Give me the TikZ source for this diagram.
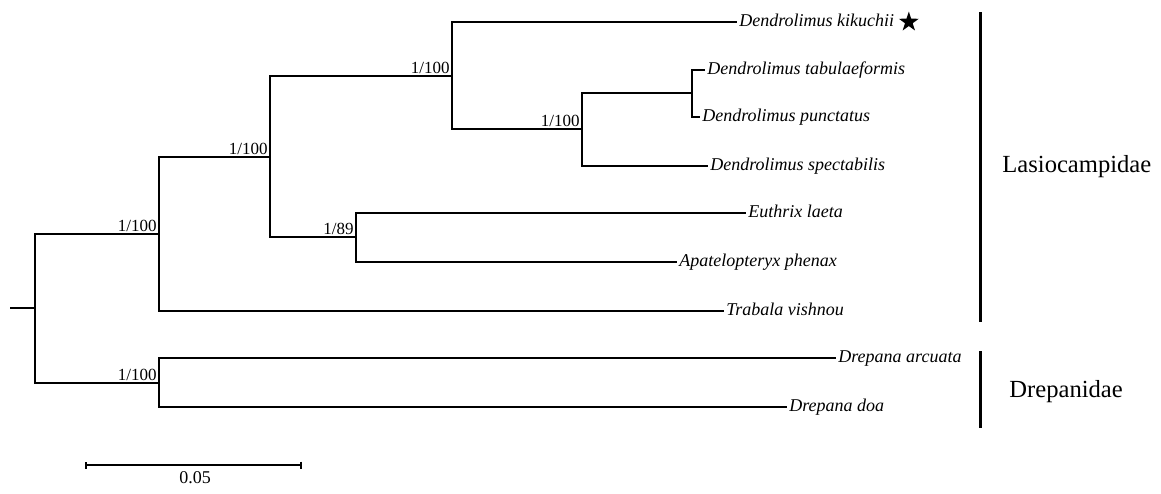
\documentclass[tikz,border=0pt]{standalone}
\usepackage{fontspec}
\setmainfont{Liberation Serif}
\usetikzlibrary{positioning,shapes.geometric,arrows.meta}
\tikzstyle{branch}=[line width=0.85pt]
\tikzstyle{taxon}=[anchor=west,inner sep=1pt,text height=0.7em,text depth=0.25em,font=\fontsize{9}{10}\selectfont\itshape]
\tikzstyle{support}=[anchor=south east,inner sep=1pt,font=\fontsize{8.5}{10}\selectfont]
\tikzstyle{family}=[anchor=west,inner sep=0pt,font=\fontsize{12.3}{14}\selectfont]
\tikzstyle{cladebar}=[line width=1.5pt]
\tikzstyle{starmark}=[star,star points=5,star point ratio=2.6,fill=black,inner sep=0pt,minimum size=10.5pt]

\begin{document}
\begin{tikzpicture}[x=0.5pt,y=-0.5pt]
        \useasboundingbox (0,0) rectangle (1161,493);
        % internal nodes
        \coordinate (stem) at (10,308);
        \coordinate (r) at (35,308);
        \coordinate (n1) at (159,234);
        \coordinate (n2) at (270,157);
        \coordinate (n3) at (452,76);
        \coordinate (n4) at (582,129);
        \coordinate (n5) at (692,93);
        \coordinate (n6) at (356,237);
        \coordinate (n7) at (159,383);
        % leaves
        \node[taxon] (kik) at (737,22) {Dendrolimus kikuchii};
        \node[starmark,right=3pt of kik] (star) {};
        \node[taxon] (tab) at (705,70) {Dendrolimus tabulaeformis};
        \node[taxon] (pun) at (700,117) {Dendrolimus punctatus};
        \node[taxon] (spe) at (708,166) {Dendrolimus spectabilis};
        \node[taxon] (eut) at (746,213) {Euthrix laeta};
        \node[taxon] (apa) at (677,262) {Apatelopteryx phenax};
        \node[taxon] (tra) at (724,311) {Trabala vishnou};
        \node[taxon] (arc) at (836,358) {Drepana arcuata};
        \node[taxon] (doa) at (787,407) {Drepana doa};
        \draw[branch] (stem) -- (r);
        \foreach \a/\b in {r/n1,r/n7,n1/n2,n2/n3,n2/n6,n3/n4,n4/n5}
          \draw[branch] (\a) |- (\b);
        \foreach \a/\b in {n1/tra,n3/kik,n4/spe,n5/tab,n5/pun,n6/eut,n6/apa,n7/arc,n7/doa}
          \draw[branch] (\a) |- (\b.west);
        \foreach \n in {n1,n2,n3,n4,n7}
          \node[support] (s\n) at (\n) {1/100};
        \node[support] (sn6) at (n6) {1/89};
        % families
        \coordinate (l1) at (980,12);
        \coordinate (l2) at (980,322);
        \coordinate (d1) at (980,351);
        \coordinate (d2) at (980,428);
        \draw[cladebar] (l1) -- (l2) (d1) -- (d2);
        \node[family] (las) at (1002,167) {Lasiocampidae};
        \node[family] (dre) at (1009,392) {Drepanidae};
        % scale
        \coordinate (b0) at (85,465);
        \coordinate (b1) at (302,465);
        \coordinate (bm) at (195,465);
        \draw[branch,{Bar[width=3.5pt]}-{Bar[width=3.5pt]}] (b0) -- (b1);
        \node[font=\fontsize{9}{10}\selectfont,inner sep=0pt,below=3pt of bm] (scl) {0.05};
      \end{tikzpicture}
\end{document}
